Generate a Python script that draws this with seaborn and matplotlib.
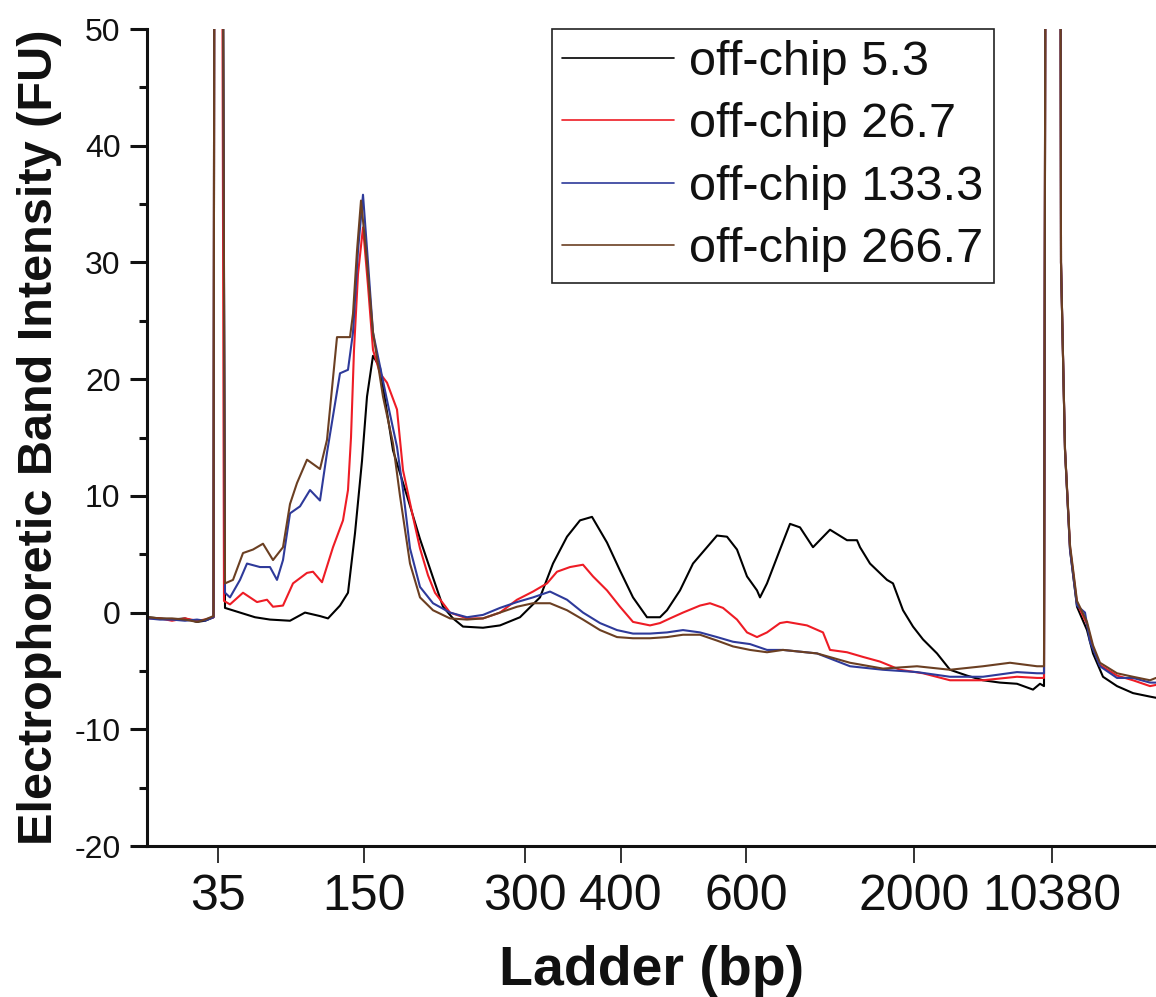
import numpy as np
import pandas as pd
import seaborn as sns
import matplotlib.pyplot as plt

# ladder markers (migration position -> bp label)
ladder_pos = [218, 364, 525, 621, 746, 914, 1052]
ladder_lbl = ['35', '150', '300', '400', '600', '2000', '10380']

names = ['off-chip 5.3', 'off-chip 26.7', 'off-chip 133.3', 'off-chip 266.7']
colors = ['#000000', '#ee1c25', '#2e3a9a', '#6b3f22']

x_53 = [148, 160, 172, 185, 197, 205, 213.5, 215.5, 219.5, 225, 240, 255, 270, 290, 305, 320, 328, 340, 348,
        355, 362, 367, 373, 380, 393, 407, 420, 433, 443, 453, 463, 483, 500, 520, 540, 553, 567, 580, 592,
        607, 620, 633, 647, 660, 667, 680, 693, 707, 717, 727, 737, 747, 757, 760, 767, 780, 790, 800, 813,
        830, 847, 857, 860, 870, 887, 893, 903, 913, 923, 937, 950, 967, 983, 1000, 1017, 1033, 1040, 1044,
        1047.5, 1059, 1061, 1065, 1070, 1077, 1087, 1093, 1103, 1117, 1133, 1150, 1156]
y_53 = [-0.4, -0.5, -0.6, -0.5, -0.8, -0.7, -0.4, 150, 150, 0.4, 0.0, -0.4, -0.6, -0.7, 0.0, -0.3, -0.5, 0.6, 1.7,
        6.8, 13, 18.5, 22, 21, 13.9, 10.0, 6.3, 3.0, 0.5, -0.5, -1.2, -1.3, -1.1, -0.4, 1.3, 4.2, 6.5, 7.9, 8.2,
        6.0, 3.6, 1.3, -0.4, -0.4, 0.2, 1.9, 4.2, 5.6, 6.6, 6.5, 5.4, 3.1, 1.9, 1.3, 2.5, 5.4, 7.6, 7.3, 5.6,
        7.1, 6.2, 6.2, 5.6, 4.2, 2.8, 2.5, 0.2, -1.2, -2.3, -3.5, -4.9, -5.4, -5.8, -6.0, -6.1, -6.6, -6.1, -6.3,
        150, 150, 30, 13.9, 5.4, 0.5, -1.5, -3.5, -5.5, -6.3, -6.9, -7.2, -7.3]

x_267 = [148, 160, 172, 185, 197, 205, 213.5, 215.5, 219.5, 224, 230, 243, 257, 267, 273, 283, 293, 307, 313,
         322, 333, 343, 348, 351, 354, 358, 363, 368, 373, 380, 387, 397, 403, 413, 420, 428, 435, 450, 467,
         483, 500, 517, 533, 547, 557, 570, 583, 593, 607, 620, 633, 650, 660, 670, 683, 700, 710, 723, 737,
         747, 757, 767, 780, 787, 807, 823, 830, 847, 863, 880, 900, 923, 950, 983, 1017, 1037, 1044, 1047.5,
         1059, 1061, 1065, 1070, 1077, 1087, 1093, 1100, 1117, 1133, 1150, 1156]
y_267 = [-0.5, -0.5, -0.7, -0.5, -0.7, -0.6, -0.4, 150, 150, 1.0, 0.7, 1.7, 0.9, 1.1, 0.5, 0.6, 2.5, 3.4, 3.5,
         2.6, 5.6, 7.9, 10.5, 15, 22.5, 29, 33, 28, 22.5, 20.5, 19.7, 17.4, 12.2, 8.2, 5.5, 3.2, 1.7, 0, -0.5,
         -0.5, 0, 1.1, 1.8, 2.5, 3.5, 3.9, 4.1, 3.1, 1.9, 0.5, -0.8, -1.1, -0.9, -0.5, 0, 0.6, 0.8, 0.4, -0.6,
         -1.7, -2.1, -1.7, -0.9, -0.8, -1.1, -1.7, -3.2, -3.4, -3.8, -4.2, -4.9, -5.2, -5.8, -5.8, -5.5, -5.6,
         -5.6, 150, 150, 30, 14, 5.6, 0.8, -1.0, -3.0, -4.5, -5.4, -5.8, -6.3, -6.2]

x_1333 = [148, 160, 172, 185, 197, 205, 213.5, 215.5, 219.5, 225, 230, 240, 247, 260, 270, 277, 283, 290, 300,
          310, 320, 327, 340, 348, 353, 358, 363, 368, 373, 387, 397, 403, 410, 420, 433, 450, 467, 483, 500,
          517, 533, 550, 567, 583, 600, 617, 633, 650, 667, 683, 700, 717, 733, 750, 767, 783, 817, 850, 883,
          917, 950, 983, 1017, 1037, 1044, 1047.5, 1059, 1061, 1065, 1070, 1077, 1085, 1090, 1100, 1117, 1133,
          1150, 1156]
y_1333 = [-0.5, -0.6, -0.6, -0.7, -0.6, -0.7, -0.4, 150, 150, 1.7, 1.3, 2.8, 4.2, 3.9, 3.9, 2.8, 4.5, 8.5, 9.1,
          10.5, 9.6, 13.7, 20.5, 20.8, 24, 31, 35.8, 30, 24, 18.2, 14.2, 10.5, 5.5, 2.2, 0.8, 0, -0.4, -0.2, 0.4,
          0.9, 1.3, 1.8, 1.1, 0, -0.9, -1.5, -1.8, -1.8, -1.7, -1.5, -1.7, -2.1, -2.5, -2.7, -3.2, -3.2, -3.5,
          -4.6, -4.9, -5.1, -5.5, -5.5, -5.1, -5.2, -5.2, 150, 150, 30, 14, 5.4, 0.6, 0, -2.5, -4.6, -5.6, -5.6,
          -6.0, -6.0]

x_2667 = [148, 160, 172, 185, 197, 205, 213.5, 215.5, 219.5, 225, 233, 243, 253, 263, 273, 283, 290, 297, 307,
          320, 327, 337, 350, 353, 357, 361, 366, 373, 383, 393, 400, 410, 420, 433, 450, 467, 483, 500, 517,
          533, 550, 567, 583, 600, 617, 633, 650, 667, 683, 700, 717, 733, 750, 767, 783, 817, 850, 883, 917,
          950, 983, 1010, 1037, 1044, 1047.5, 1059, 1061, 1065, 1070, 1077, 1087, 1093, 1100, 1117, 1133, 1150,
          1156]
y_2667 = [-0.4, -0.5, -0.5, -0.6, -0.8, -0.6, -0.3, 150, 150, 2.5, 2.8, 5.1, 5.4, 5.9, 4.5, 5.6, 9.3, 11.1, 13.1,
          12.3, 14.8, 23.6, 23.6, 25.6, 31, 35.3, 31, 24, 18.5, 14.5, 10, 4.2, 1.3, 0.2, -0.5, -0.6, -0.5, 0, 0.5,
          0.8, 0.8, 0.2, -0.6, -1.5, -2.1, -2.2, -2.2, -2.1, -1.9, -1.9, -2.4, -2.9, -3.2, -3.4, -3.2, -3.5, -4.3,
          -4.8, -4.6, -4.9, -4.6, -4.3, -4.6, -4.6, 150, 150, 30, 14, 5.8, 1.0, -0.8, -2.8, -4.3, -5.2, -5.5, -5.8,
          -5.6]

frames = []
for nm, xs, ys in zip(names, [x_53, x_267, x_1333, x_2667], [y_53, y_267, y_1333, y_2667]):
    frames.append(pd.DataFrame({'pos': xs, 'FU': ys, 'sample': nm}))
df = pd.concat(frames, ignore_index=True)

sns.set_style('ticks')
plt.rcParams['font.family'] = ['Liberation Sans', 'DejaVu Sans']
plt.rcParams['axes.unicode_minus'] = False

fig = plt.figure(figsize=(11.56, 9.97), dpi=100)
ax = fig.add_axes([147 / 1156, 151 / 997, 1009 / 1156, 817 / 997])

sns.lineplot(data=df, x='pos', y='FU', hue='sample', hue_order=names, palette=colors,
             sort=False, estimator=None, linewidth=1.5, ax=ax)

ax.set_xlim(147, 1156)
ax.set_ylim(-20, 50)
ax.set_xticks(ladder_pos)
ax.set_xticklabels(ladder_lbl)
ax.set_yticks(np.arange(-20, 51, 10))
ax.set_yticks(np.arange(-15, 50, 10), minor=True)

sns.despine(ax=ax)
for s in ['left', 'bottom']:
    ax.spines[s].set_linewidth(2.2)
    ax.spines[s].set_color('#111111')

ax.tick_params(axis='y', which='major', length=12, width=2.2, labelsize=23, pad=7,
               color='#111111', labelcolor='#111111')
ax.tick_params(axis='y', which='minor', length=6, width=2.2, color='#111111')
ax.tick_params(axis='x', which='major', length=12, width=1.2, labelsize=36, pad=8,
               color='#111111', labelcolor='#111111')

ax.set_xlabel('Ladder (bp)', fontsize=40, fontweight='bold', labelpad=18, color='#111111')
ax.set_ylabel('Electrophoretic Band Intensity (FU)', fontsize=35, fontweight='bold', labelpad=9,
              color='#111111')

handles, labels = ax.get_legend_handles_labels()
leg = ax.legend(handles, labels, loc='upper left', bbox_to_anchor=(0.401, 1.0), borderaxespad=0,
                fontsize=35, frameon=True, fancybox=False, edgecolor='#222222', framealpha=1,
                handlelength=2.3, handletextpad=0.3, labelspacing=0.36, borderpad=0.22)
leg.get_frame().set_linewidth(1.2)
for h in leg.get_lines():
    h.set_linewidth(1.2)
for t in leg.get_texts():
    t.set_color('#111111')

fig.savefig('out.png', dpi=100)
